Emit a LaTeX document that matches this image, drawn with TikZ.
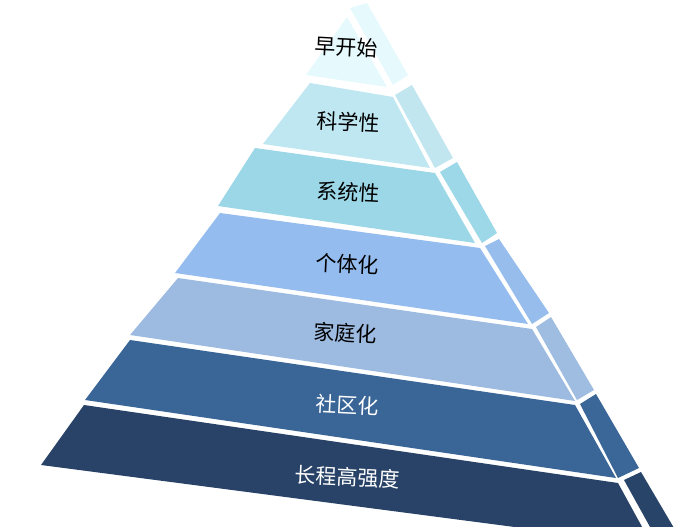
\documentclass[tikz,border=0pt]{standalone}
\usepackage{fontspec}
\newfontfamily\cjk{Noto Sans CJK SC}
\begin{document}
\begin{tikzpicture}[x=1pt,y=-1pt,
  lab/.style={font=\cjk\fontsize{21}{24}\selectfont,rotate=-3,inner sep=0},
  face/.style={draw=none}]
\useasboundingbox (0,0) rectangle (693,527);
\clip (0,0) rectangle (693,527);
\definecolor{c1}{HTML}{E6F9FD}\definecolor{s1}{HTML}{E6F9FD}
\definecolor{c2}{HTML}{BFE7F2}\definecolor{s2}{HTML}{C2E6F0}
\definecolor{c3}{HTML}{9BD7E7}\definecolor{s3}{HTML}{9DD8E8}
\definecolor{c4}{HTML}{95BCEE}\definecolor{s4}{HTML}{97BDED}
\definecolor{c5}{HTML}{9DBBE0}\definecolor{s5}{HTML}{9FBCE1}
\definecolor{c6}{HTML}{396597}\definecolor{s6}{HTML}{3B6698}
\definecolor{c7}{HTML}{284367}\definecolor{s7}{HTML}{294469}
% layer 1
\fill[c1] (347,17) -- (387,87) -- (306,75) -- cycle;
\fill[s1] (350,8) -- (367,3) -- (408,75) -- (393,85) -- cycle;
% layer 2
\fill[c2] (310,83) -- (393,97) -- (430,168) -- (263,144) -- cycle;
\fill[s2] (395,95) -- (412,85) -- (453,158) -- (435,168) -- cycle;
% layer 3
\fill[c3] (255,148) -- (435,173) -- (475,243) -- (218,206) -- cycle;
\fill[s3] (440,172) -- (457,162) -- (497,233) -- (482,243) -- cycle;
% layer 4
\fill[c4] (220,213) -- (480,248) -- (528,324) -- (175,273) -- cycle;
\fill[s4] (485,246) -- (499,239) -- (549,313) -- (532,324) -- cycle;
% layer 5
\fill[c5] (178,278) -- (532,329) -- (575,401) -- (130,335) -- cycle;
\fill[s5] (536,327) -- (551,317) -- (594,390) -- (577,400) -- cycle;
% layer 6
\fill[c6] (130,340) -- (575,405) -- (616,478) -- (85,400) -- cycle;
\fill[s6] (580,404) -- (596,394) -- (639,468) -- (618,478) -- cycle;
% layer 7
\fill[c7] (84,405) -- (618,483) -- (652,545) -- (41,465) -- cycle;
\fill[s7] (624,480) -- (641,472) -- (684,545) -- (660,545) -- cycle;
\node[lab] (t1) at (346,47) {早开始};
\node[lab] (t2) at (348,122) {科学性};
\node[lab] (t3) at (348,192) {系统性};
\node[lab] (t4) at (347,264) {个体化};
\node[lab] (t5) at (345,333) {家庭化};
\node[lab,white] (t6) at (347,405) {社区化};
\node[lab,white] (t7) at (347,477) {长程高强度};
\end{tikzpicture}
\end{document}
